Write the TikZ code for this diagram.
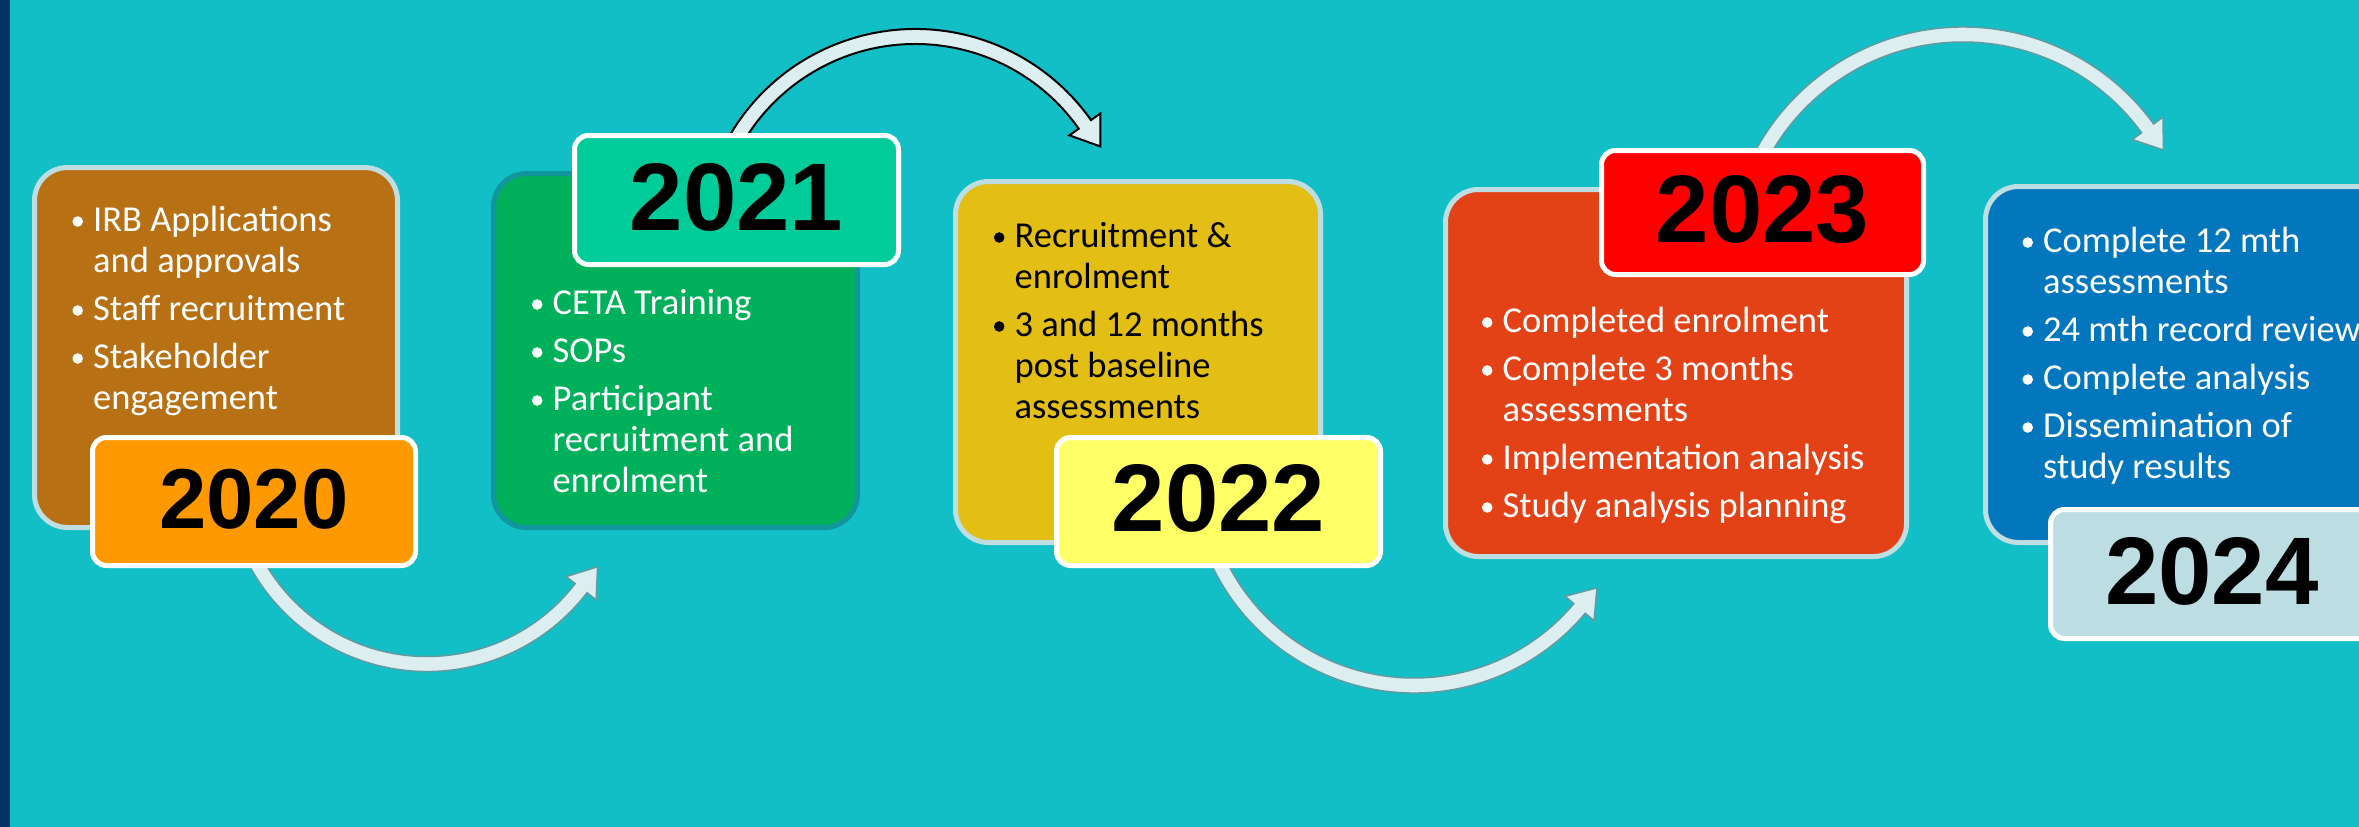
\documentclass[tikz,border=0pt]{standalone}
\usepackage{graphicx}
\usepackage{fontspec}
\setmainfont{Carlito}
\newfontfamily\yearfont{Liberation Sans}
\usetikzlibrary{calc}

\definecolor{bg}{RGB}{19,191,198}
\definecolor{navy}{RGB}{0,51,102}
\definecolor{arrowfill}{RGB}{220,238,240}
\definecolor{arrowline}{RGB}{95,155,160}
\definecolor{lightborder}{RGB}{190,222,226}
\definecolor{c20}{RGB}{184,112,20}
\definecolor{l20}{RGB}{255,153,0}
\definecolor{c21}{RGB}{0,176,90}
\definecolor{b21}{RGB}{16,150,156}
\definecolor{l21}{RGB}{0,204,153}
\definecolor{c22}{RGB}{227,190,20}
\definecolor{l22}{RGB}{255,255,102}
\definecolor{c23}{RGB}{227,66,22}
\definecolor{l23}{RGB}{255,0,0}
\definecolor{c24}{RGB}{2,119,190}
\definecolor{l24}{RGB}{188,222,226}

% bullet: a filled dot of diameter 10.6pt, centre 6.5pt from the left, 9.5pt above the baseline
\newcommand{\bul}{\tikz[baseline=0pt, x=1pt, y=1pt]{\useasboundingbox (0,0) rectangle (22,1); \fill[fill=.] (6.5,9.5) circle[radius=5.3pt];}}
\newcommand{\bitem}[1]{\hangindent=22pt\hangafter=1\noindent\makebox[22pt][l]{\bul}#1\par}
\newcommand{\bodyset}{\fontsize{36.5}{41}\selectfont\spaceskip=0pt\xspaceskip=0pt\parskip=7pt\parindent=0pt\relax}

\tikzset{
  stagebox/.style={draw=lightborder, line width=5pt, rounded corners=33pt, inner sep=0pt},
  yearlabel/.style={draw=white, line width=5pt, rounded corners=14pt, inner sep=0pt,
    minimum width=323pt, minimum height=128pt, text depth=7pt,
    font={\yearfont\bfseries\fontsize{96}{100}\selectfont}},
  bodytext/.style={anchor=base west, inner sep=0pt, text width=500pt,
    font={\fontsize{36.5}{41}\selectfont}},
  arrowlight/.style={fill=arrowfill, draw=arrowline, line width=1.5pt, line join=miter},
  arrowdark/.style={fill=arrowfill, draw=black, line width=2pt, line join=miter}
}

\begin{document}
\begin{tikzpicture}[x=1pt,y=-1pt]
\useasboundingbox (0,0) rectangle (2359,827);
\fill[bg] (0,0) rectangle (2359,827);
\fill[navy] (0,0) rectangle (10,827);

% curved arrows (drawn first, they emerge from under the year labels)
\coordinate (cA) at (427,469.5);
\coordinate (cB) at (915.3,244);
\coordinate (cC) at (1414,469.1);
\coordinate (cD) at (1963,263);

\begin{scope}[shift={(cA)}]
\draw[arrowlight] (155:202) arc[start angle=155, end angle=37.6, radius=202]
  -- (37.6:213.5) -- (29.7:196.4) -- (37.6:175.5) -- (37.6:187)
  arc[start angle=37.6, end angle=155, radius=187] -- cycle;
\end{scope}
\begin{scope}[shift={(cB)}]
\draw[arrowdark] (208:215) arc[start angle=208, end angle=324.8, radius=215]
  -- (324.8:226.5) -- (332.2:209.2) -- (324.8:188.5) -- (324.8:200)
  arc[start angle=324.8, end angle=208, radius=200] -- cycle;
\end{scope}
\begin{scope}[shift={(cC)}]
\draw[arrowlight] (158:223.9) arc[start angle=158, end angle=40.1, radius=223.9]
  -- (40.1:235.4) -- (33.0:218.1) -- (40.1:197.4) -- (40.1:208.9)
  arc[start angle=40.1, end angle=158, radius=208.9] -- cycle;
\end{scope}
\begin{scope}[shift={(cD)}]
\draw[arrowlight] (206:236) arc[start angle=206, end angle=323.9, radius=236]
  -- (323.9:247.5) -- (330.6:230.1) -- (323.9:209.5) -- (323.9:221)
  arc[start angle=323.9, end angle=206, radius=221] -- cycle;
\end{scope}

% stage boxes
\node[stagebox, fill=c20, minimum width=363pt, minimum height=360pt] (box20) at (216,347.5) {};
\node[stagebox, draw=b21, fill=c21, minimum width=364pt, minimum height=354pt] (box21) at (675.5,350.5) {};
\node[stagebox, fill=c22, minimum width=365pt, minimum height=361pt] (box22) at (1138,362) {};
\node[stagebox, fill=c23, minimum width=461pt, minimum height=367pt] (box23) at (1676,373) {};
\node[stagebox, fill=c24, minimum width=452pt, minimum height=356pt] (box24) at (2211.5,364.5) {};

% year labels
\node[yearlabel, fill=l20, font={\yearfont\bfseries\fontsize{85}{90}\selectfont}, text depth=6pt] (y20) at (254,501.5) {2020};
\node[yearlabel, fill=l21, minimum width=324pt, minimum height=129pt] (y21) at (736.5,200) {2021};
\node[yearlabel, fill=l22, minimum width=324pt] (y22) at (1218.5,501.5) {2022};
\node[yearlabel, fill=l23, minimum width=322pt, minimum height=124pt] (y23) at (1762.5,212.5) {2023};
\node[yearlabel, fill=l24, minimum height=129pt] (y24) at (2212,574) {2024};

% body texts
\node[bodytext, text=white] (t20) at (71,231) {\bodyset
  \bitem{IRB Applications\newline and approvals}%
  \bitem{Staff recruitment}%
  \bitem{Stakeholder\newline engagement}};
\node[bodytext, text=white] (t21) at (530.5,314) {\bodyset
  \bitem{CETA Training}%
  \bitem{SOPs}%
  \bitem{Participant\newline recruitment and\newline enrolment}};
\node[bodytext, text=black] (t22) at (992.5,247) {\bodyset
  \bitem{Recruitment \&\newline enrolment}%
  \bitem{3 and 12 months\newline post baseline\newline assessments}};
\node[bodytext, text=white] (t23) at (1480.5,332) {\bodyset
  \bitem{Completed enrolment}%
  \bitem{Complete 3 months\newline assessments}%
  \bitem{Implementation analysis}%
  \bitem{Study analysis planning}};
\node[bodytext, text=white] (t24) at (2021,252) {\bodyset
  \bitem{Complete 12 mth\newline assessments}%
  \bitem{24 mth record review}%
  \bitem{Complete analysis}%
  \bitem{Dissemination of\newline study results}};
\end{tikzpicture}
\end{document}
